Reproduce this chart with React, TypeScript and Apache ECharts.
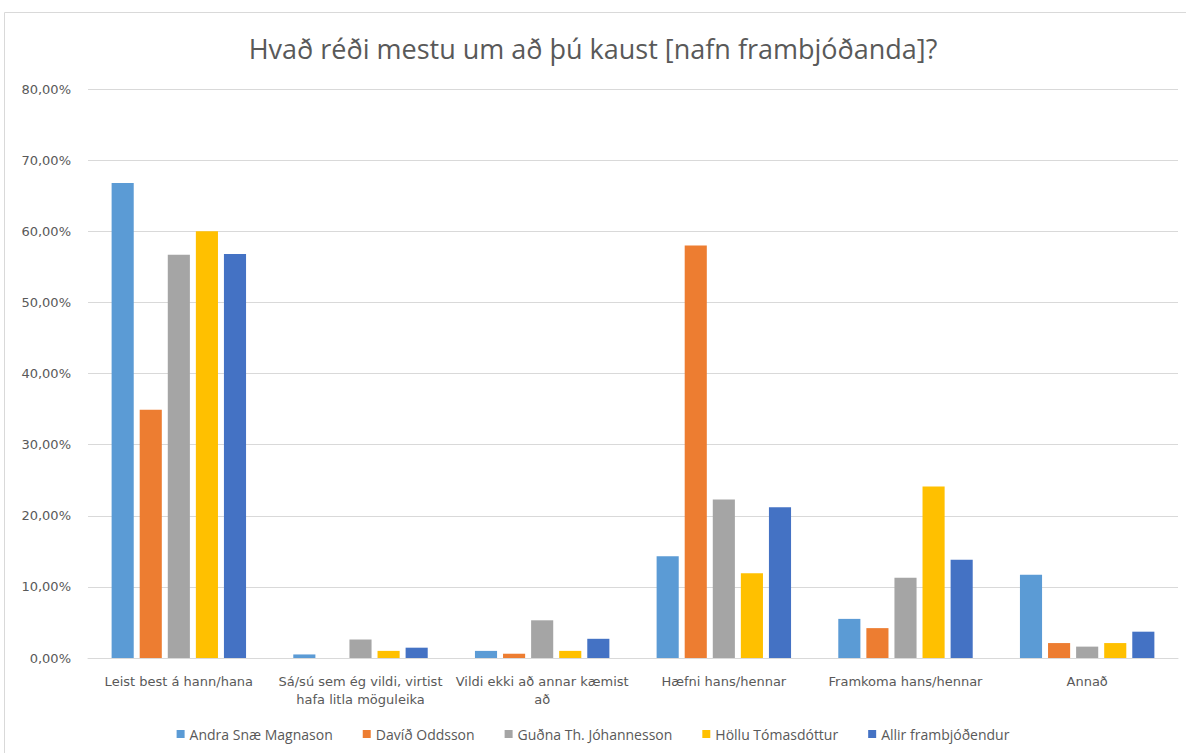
import React, { useEffect, useRef } from "react";
import * as echarts from "echarts";

const categories = [
  "Leist best á hann/hana",
  "Sá/sú sem ég vildi, virtist\nhafa litla möguleika",
  "Vildi ekki að annar kæmist\nað",
  "Hæfni hans/hennar",
  "Framkoma hans/hennar",
  "Annað",
];
const seriesNames = [
  "Andra Snæ Magnason",
  "Davíð Oddsson",
  "Guðna Th. Jóhannesson",
  "Höllu Tómasdóttur",
  "Allir frambjóðendur",
];
const andra = [66.8, 0.5, 1.0, 14.3, 5.5, 11.7];
const david = [34.9, 0, 0.6, 58.0, 4.2, 2.1];
const gudni = [56.7, 2.6, 5.3, 22.3, 11.3, 1.6];
const halla = [60.0, 1.0, 1.0, 11.9, 24.1, 2.1];
const allir = [56.8, 1.45, 2.7, 21.2, 13.8, 3.7];
const colors = ["#5B9BD5", "#ED7D31", "#A5A5A5", "#FFC000", "#4472C4"];
const title = "Hvað réði mestu um að þú kaust [nafn frambjóðanda]?";

export default function App() {
  const ref = useRef<HTMLDivElement>(null);
  useEffect(() => {
    if (!ref.current) return;
    const chart = echarts.init(ref.current, undefined, { renderer: "svg" });
    const data = [andra, david, gudni, halla, allir];
    chart.setOption({
      animation: false,
      backgroundColor: "#ffffff",
      title: {
        text: title,
        left: "center",
        top: 30,
        textStyle: {
          fontFamily: "'Open Sans', sans-serif",
          fontSize: 27,
          fontWeight: "normal",
          color: "#595959",
        },
      },
      graphic: [
        {
          type: "rect",
          shape: { x: 4.5, y: 12.5, width: 1200, height: 800 },
          style: { fill: "none", stroke: "#d9d9d9", lineWidth: 1 },
          silent: true,
        },
      ],
      legend: {
        bottom: 7,
        left: "center",
        itemWidth: 8,
        itemHeight: 8,
        itemGap: 30,
        icon: "rect",
        textStyle: {
          fontFamily: "'Open Sans', sans-serif",
          fontSize: 14,
          color: "#595959",
        },
        data: seriesNames,
      },
      grid: { left: 88, right: 8, top: 89, bottom: 95, containLabel: false },
      xAxis: {
        type: "category",
        data: categories,
        axisLine: { lineStyle: { color: "#d9d9d9" } },
        axisTick: { show: false },
        axisLabel: {
          interval: 0,
          color: "#595959",
          fontFamily: "'DejaVu Sans', sans-serif",
          fontSize: 13,
          margin: 14,
          lineHeight: 18,
        },
      },
      yAxis: {
        type: "value",
        min: 0,
        max: 80,
        interval: 10,
        axisLine: { show: false },
        axisTick: { show: false },
        splitLine: { lineStyle: { color: "#d9d9d9" } },
        axisLabel: {
          color: "#595959",
          fontFamily: "'DejaVu Sans', sans-serif",
          fontSize: 13,
          margin: 17,
          formatter: (v: number) => v.toFixed(2).replace(".", ",") + "%",
        },
      },
      series: seriesNames.map((name, i) => ({
        name,
        type: "bar",
        data: data[i],
        barGap: "27%",
        barCategoryGap: "26%",
        itemStyle: { color: colors[i] },
      })),
    });
    return () => chart.dispose();
  }, []);
  return (
    <div
      ref={ref}
      style={{ position: "absolute", left: 0, top: 0, width: 1186, height: 753 }}
    />
  );
}
